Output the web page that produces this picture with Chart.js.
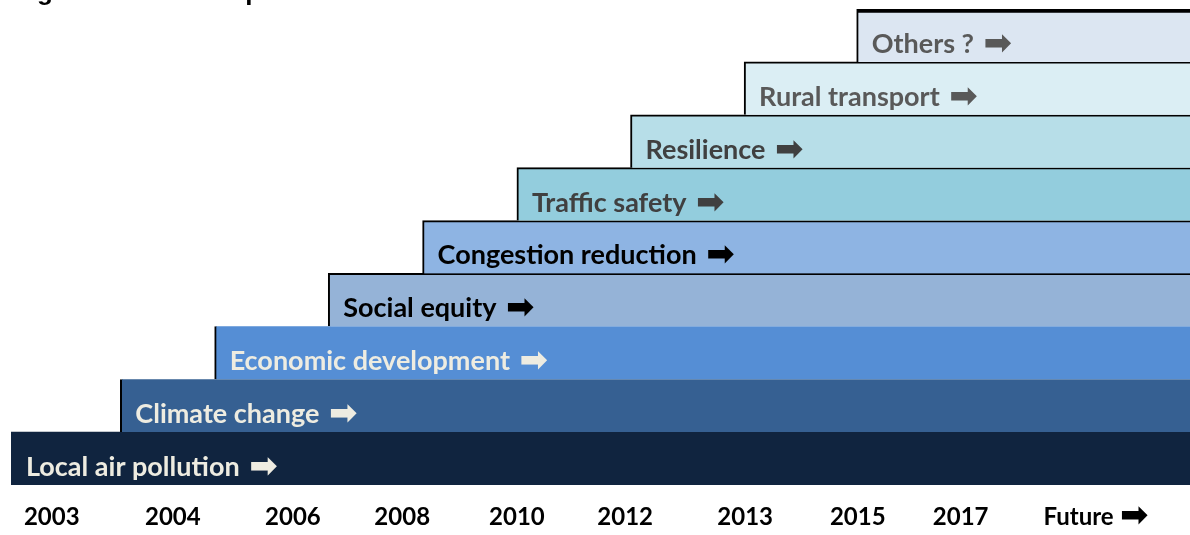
<!DOCTYPE html>
<html>
<head>
<meta charset="utf-8">
<script src="https://cdn.jsdelivr.net/npm/chart.js@4/dist/chart.umd.min.js"></script>
<style>
  html, body { margin: 0; padding: 0; background: #fff; }
  canvas { display: block; }
</style>
</head>
<body>
<canvas id="chart" width="1190" height="535"></canvas>
<script>
// issues, from the oldest (bottom) to the newest (top)
const issues = ['Local air pollution', 'Climate change', 'Economic development', 'Social equity',
    'Congestion reduction', 'Traffic safety', 'Resilience', 'Rural transport', 'Others ?'];
// where each issue starts on the timeline (timeline runs 0 .. 11)
const issueStart = [0, 1.02, 1.9, 2.96, 3.84, 4.72, 5.78, 6.84, 7.89];
const timelineEnd = 11;

const tickLabels = ['2003', '2004', '2006', '2008', '2010', '2012', '2013', '2015', '2017', 'Future', '\u27a1'];
const tickPos = [0.38, 1.51, 2.63, 3.65, 4.72, 5.73, 6.85, 7.90, 8.86, 9.96, 10.48];

const barColors = ['#10243f', '#366092', '#558ed5', '#95b3d7', '#8eb4e3', '#93cddd', '#b7dee8', '#dbeef4', '#dce6f2'];
const textColors = ['#eeece1', '#eeece1', '#eeece1', '#000000', '#000000', '#404040', '#404040', '#595959', '#595959'];

const labelFont = "bold 27px Lato, 'DejaVu Sans', sans-serif";
const arrowFont = "bold 34px 'DejaVu Sans', sans-serif";

// writes the issue name inside each bar, plus the cut-off figure title at the top
const barText = {
    id: 'barText',
    afterDatasetsDraw(chart) {
        const ctx = chart.ctx;
        const meta = chart.getDatasetMeta(0);
        ctx.save();
        ctx.textBaseline = 'alphabetic';
        ctx.textAlign = 'left';
        meta.data.forEach((bar, i) => {
            const left = Math.min(bar.x, bar.base);
            const y = bar.y + bar.height / 2 - 9;
            ctx.fillStyle = textColors[i];
            ctx.font = labelFont;
            const w = ctx.measureText(issues[i] + ' ').width;
            ctx.fillText(issues[i], left + 15, y);
            ctx.font = arrowFont;
            ctx.fillText('\u27a1', left + 18 + w, y + 1);
        });
        // title of the figure, mostly outside the picture
        ctx.fillStyle = '#000';
        ctx.font = "bold 26px 'Liberation Sans', Arial, sans-serif";
        ctx.fillText('Figure 1.1:\u2003\u2003Scope of Issues Covered in TDM Literature', 14, 0);
        ctx.restore();
    }
};

new Chart(document.getElementById('chart'), {
    type: 'bar',
    data: {
        labels: issues,
        datasets: [{
            data: issues.map((_, i) => [issueStart[i], timelineEnd]),
            backgroundColor: barColors,
            borderColor: '#000',
            borderSkipped: false,
            borderWidth: (c) => {
                const i = c.dataIndex;
                if (i === 0) return 0;
                if (i < 3) return { left: 2, top: 0, right: 0, bottom: 0 };
                return { left: 2, top: i === 8 ? 4 : 2, right: 0, bottom: 0 };
            },
            barPercentage: 1,
            categoryPercentage: 1
        }]
    },
    options: {
        indexAxis: 'y',
        responsive: false,
        animation: false,
        layout: { padding: { left: 11, right: 0, top: 9, bottom: 0 } },
        plugins: {
            legend: { display: false },
            tooltip: { enabled: false }
        },
        scales: {
            y: {
                display: false,
                reverse: true
            },
            x: {
                type: 'linear',
                min: 0,
                max: timelineEnd,
                grid: { display: false, drawTicks: false },
                border: { display: false },
                afterBuildTicks: (scale) => {
                    scale.ticks = tickPos.map(v => ({ value: v }));
                },
                afterFit: (scale) => {
                    scale.height = 50;
                },
                ticks: {
                    autoSkip: false,
                    maxRotation: 0,
                    padding: 18,
                    color: '#000',
                    font: (c) => (c.index === tickLabels.length - 1
                        ? { family: "'DejaVu Sans', sans-serif", size: 34, weight: 'bold', lineHeight: 0.85 }
                        : { family: "Lato, 'DejaVu Sans', sans-serif", size: 24, weight: 'bold' }),
                    callback: (value, index) => tickLabels[index]
                }
            }
        }
    },
    plugins: [barText]
});
</script>
</body>
</html>
